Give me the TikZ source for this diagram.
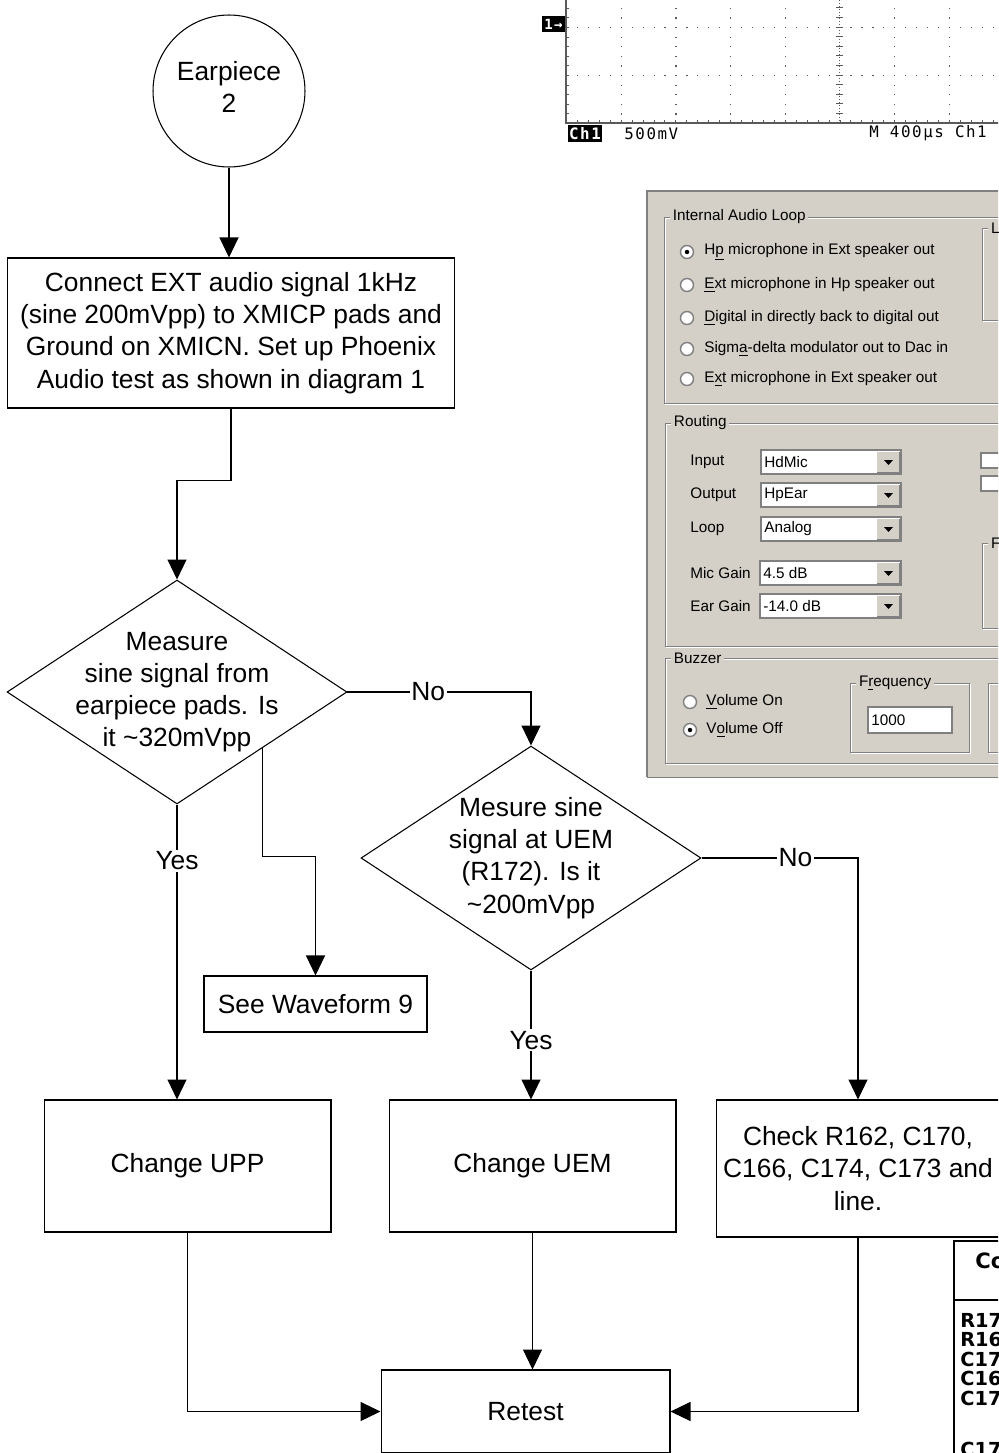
\documentclass[tikz,border=0pt]{standalone}
\usepackage{fontspec}
\setmainfont{Liberation Sans}
\newfontfamily\scopefont[LetterSpace=10]{DejaVu Sans Mono}
\newfontfamily\tabfont{DejaVu Sans}
\usetikzlibrary{shapes.geometric,arrows.meta,calc}
\definecolor{panel}{RGB}{212,208,200}
\definecolor{dkgray}{RGB}{128,128,128}
\definecolor{scopegray}{RGB}{90,90,90}
% dialog helpers
\newcommand{\grpbox}[5]{%
  \draw[white,shift={(1,1)}] (#1,#2) rectangle (#3,#4);
  \draw[dkgray] (#1,#2) rectangle (#3,#4);
  \node[dlg,fill=panel,inner xsep=1.5pt,anchor=west] at ({#1+6},#2) {#5};}
\newcommand{\radio}[3]{%
  \draw[dkgray,fill=white,line width=0.8pt] (#1,#2) circle (0.13cm);
  \ifnum#3=1 \fill (#1,#2) circle (0.045cm);\fi}
\newcommand{\combo}[4]{%
  \draw[dkgray,fill=white,line width=0.8pt] (#1,{#3-12}) rectangle (#2,{#3+12});
  \fill[panel] ({#2-24},{#3-10}) rectangle ({#2-2},{#3+10});
  \draw[dkgray] ({#2-24},{#3+10}) -- ({#2-2},{#3+10}) -- ({#2-2},{#3-10});
  \fill ({#2-17},{#3-2}) -- ({#2-8},{#3-2}) -- ({#2-12.5},{#3+3}) -- cycle;
  \node[dlg,anchor=west] at ({#1+3},#3) {#4};}

\begin{document}
\begin{tikzpicture}[x=0.02cm,y=-0.02cm,
  flow/.style={font=\fontsize{15}{18.3}\selectfont},
  box/.style={draw,flow,align=center,inner sep=0pt,line width=0.6pt},
  term/.style={circle,draw,flow,align=center,minimum size=3.04cm,inner sep=0pt,line width=0.6pt},
  diam/.style={diamond,draw,minimum width=6.8cm,minimum height=4.48cm,inner sep=0pt,line width=0.6pt},
  arr/.style={-{Triangle[width=0.38cm,length=0.4cm]},line width=0.6pt},
  lbl/.style={flow,fill=white,inner sep=1pt},
  dlg/.style={font=\fontsize{8.7}{10}\selectfont,inner sep=0pt},
  scr/.style={font=\scopefont\fontsize{9}{10}\selectfont,inner sep=0pt},
  tab/.style={font=\tabfont\bfseries\fontsize{11}{12}\selectfont,inner sep=0pt,anchor=west}]
\useasboundingbox (0,0) rectangle (998,1453);
\clip (0,0) rectangle (998,1453);

% scope screen
\draw[scopegray,line width=0.8pt] (566,0) -- (566,123) -- (1000,123);
\foreach \i in {0,...,40} \fill[scopegray] ({566+10.94*\i},120) rectangle ++(1,3);
\foreach \j in {0,...,12} \fill[scopegray] (566,{123-9.6*\j}) rectangle ++(3,1);
\foreach \gx in {1,2,3,4,6,7,8} \foreach \j in {1,...,12}
  \fill[scopegray] ({566+54.7*\gx},{123-9.6*\j}) rectangle ++(1.2,1.2);
\foreach \gy in {27,75} \foreach \i in {1,...,40}
  \fill[scopegray] ({566+10.94*\i},\gy) rectangle ++(1.2,1.2);
\draw[scopegray,dash pattern=on 0.02cm off 0.04cm] (839.5,0) -- (839.5,123);
\foreach \j in {0,...,12} \draw[scopegray] (836,{123-9.6*\j}) -- ++(7,0);
\fill (542,16) rectangle (565,32);
\node[scr,white,font=\scopefont\bfseries\fontsize{8}{9}\selectfont] at (553.5,24) {1→};
\fill (568,125) rectangle (602,142);
\node[scr,white,font=\scopefont\bfseries\fontsize{9}{10}\selectfont] at (585,133.5) {Ch1};
\node[scr,anchor=west] at (624,133.5) {500mV};
\node[scr,anchor=west] at (869,133.5) {M 400µs Ch1};

% dialog
\fill[panel] (647,191) rectangle (1010,777);
\draw[dkgray,line width=1pt] (647,777) -- (647,191) -- (1010,191);
\draw[dkgray] (647,777) -- (1010,777);
\grpbox{664}{217}{1010}{403}{Internal Audio Loop}
\grpbox{982}{228}{1010}{320}{L}
\radio{687}{252}{1} \node[dlg,anchor=west] at (704,252) {H\underline{p} microphone in Ext speaker out};
\radio{687}{285}{0} \node[dlg,anchor=west] at (704,285) {\underline{E}xt microphone in Hp speaker out};
\radio{687}{318}{0} \node[dlg,anchor=west] at (704,318) {\underline{D}igital in directly back to digital out};
\radio{687}{349}{0} \node[dlg,anchor=west] at (704,349) {Sigm\underline{a}-delta modulator out to Dac in};
\radio{687}{379}{0} \node[dlg,anchor=west] at (704,379) {E\underline{x}t microphone in Ext speaker out};
\grpbox{665}{423}{1010}{646}{Routing}
\node[dlg,anchor=west] at (690,462) {Input};
\node[dlg,anchor=west] at (690,495) {Output};
\node[dlg,anchor=west] at (690,529) {Loop};
\node[dlg,anchor=west] at (690,573) {Mic Gain};
\node[dlg,anchor=west] at (690,606) {Ear Gain};
\combo{761}{901}{462}{HdMic}
\combo{761}{901}{495}{HpEar}
\combo{761}{901}{529}{Analog}
\combo{760}{901}{573}{4.5 dB}
\combo{760}{901}{606}{-14.0 dB}
\draw[dkgray,fill=white,line width=0.8pt] (981,453) rectangle (1001,468);
\draw[dkgray,fill=white,line width=0.8pt] (981,476) rectangle (1001,491);
\grpbox{982}{543}{1010}{628}{F}
\grpbox{665}{658}{1010}{763}{Buzzer}
\radio{690}{702}{0} \node[dlg,anchor=west] at (706,702) {\underline{V}olume On};
\radio{690}{730}{1} \node[dlg,anchor=west] at (706,730) {V\underline{o}lume Off};
\grpbox{850}{683}{969}{752}{F\underline{r}equency}
\draw[dkgray,fill=white,line width=0.8pt] (868,707) rectangle (952,733);
\node[dlg,anchor=west] at (871,720) {1000};
\draw[white,shift={(1,1)}] (988,683) rectangle (1010,752);
\draw[dkgray] (988,683) rectangle (1010,752);

% flowchart
\node[term] (ear) at (229,91) {};
\node[flow,align=center] at (229,87) {Earpiece\\2};
\node[box,minimum width=8.96cm,minimum height=3cm] (conn) at (231,333)
  {Connect EXT audio signal 1kHz\\(sine 200mVpp) to XMICP pads and\\Ground on XMICN. Set up Phoenix\\Audio test as shown in diagram 1};
\node[diam] (meas) at (177,692) {};
\node[flow,align=center] at (meas) {Measure\\sine signal from\\earpiece pads. Is\\it \textasciitilde320mVpp};
\node[diam] (dsig) at (531,858) {};
\node[flow,align=center] at (dsig) {Mesure sine\\signal at UEM\\(R172). Is it\\\textasciitilde200mVpp};
\node[box,minimum width=4.46cm,minimum height=1.12cm] (wave) at (315.5,1004) {See Waveform 9};
\node[box,minimum width=5.74cm,minimum height=2.64cm] (upp) at (187.5,1166) {Change UPP};
\node[box,minimum width=5.74cm,minimum height=2.64cm] (chuem) at (532.5,1166) {Change UEM};
\node[box,minimum width=5.68cm,minimum height=2.74cm] (check) at (858,1168.5)
  {Check R162, C170,\\C166, C174, C173 and\\line.};
\node[box,minimum width=5.78cm,minimum height=1.66cm] (retest) at (525.5,1411.5) {Retest};
\coordinate (wv) at ($(meas.east)!0.5!(meas.south)$);

\draw[arr] (ear.south) -- (ear.south |- conn.north);
\draw[arr] (conn.south) -- ++(0,72) -| (meas.north);
\draw[arr] (meas.east) -| node[lbl,pos=0.22] {No} (dsig.north);
\draw[arr] (meas.south) -- node[lbl,pos=0.19] {Yes} (meas.south |- upp.north);
\draw[arr] (wv) -- ++(0,108) -| (wave.north);
\draw[arr] (dsig.south) -- node[lbl,pos=0.54] {Yes} (dsig.south |- chuem.north);
\draw[arr] (dsig.east) -| node[lbl,pos=0.3] {No} (check.north);
\draw[arr] (upp.south) |- (retest.west);
\draw[arr] (chuem.south) -- (chuem.south |- retest.north);
\draw[arr] (check.south) |- (retest.east);

% component table
\draw[line width=1.5pt] (1010,1241) -- (954,1241) -- (954,1460);
\draw[line width=1.2pt] (954,1300) -- (1010,1300);
\node[tab,font=\tabfont\bfseries\fontsize{12}{13}\selectfont] at (975,1263) {Component};
\foreach \ry/\rc in {1320/R172,1339.5/R162,1359/C170,1378.5/C166,1398/C174,1449/C173}
  \node[tab] at (960,\ry) {\rc};
\end{tikzpicture}
\end{document}
